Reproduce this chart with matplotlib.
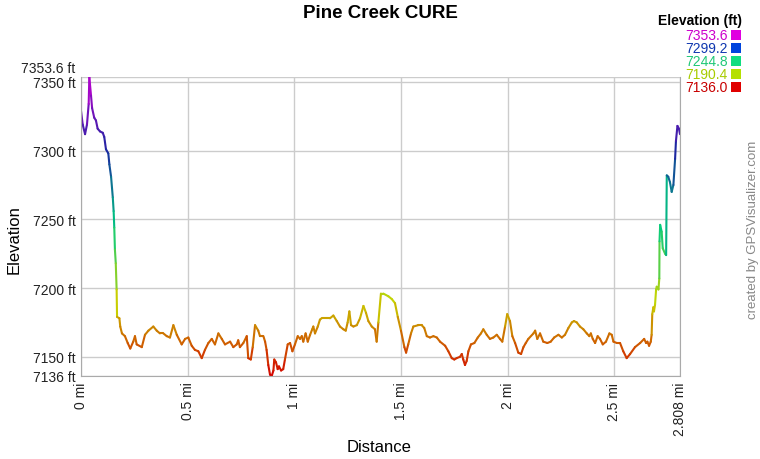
import matplotlib.pyplot as plt
import numpy as np
from matplotlib.collections import LineCollection
from matplotlib.colors import LinearSegmentedColormap, Normalize
from matplotlib.patches import Rectangle
from matplotlib.transforms import ScaledTranslation

plt.rcParams['font.family'] = ['Liberation Sans', 'DejaVu Sans']

# profile (distance in mi, elevation in ft)
dist_mi = [0.000, 0.008, 0.019, 0.028, 0.036, 0.039, 0.047, 0.052, 0.062, 0.070,
           0.078, 0.089, 0.102, 0.109, 0.117, 0.128, 0.133, 0.141, 0.149, 0.153,
           0.156, 0.159, 0.163, 0.167, 0.169, 0.180, 0.184, 0.192, 0.206, 0.219,
           0.231, 0.245, 0.253, 0.261, 0.285, 0.300, 0.316, 0.339, 0.355, 0.370,
           0.386, 0.402, 0.417, 0.433, 0.449, 0.472, 0.488, 0.503, 0.519, 0.534,
           0.550, 0.566, 0.581, 0.597, 0.613, 0.628, 0.644, 0.660, 0.675, 0.699,
           0.714, 0.730, 0.737, 0.745, 0.761, 0.777, 0.784, 0.796, 0.805, 0.816,
           0.831, 0.839, 0.855, 0.863, 0.870, 0.878, 0.886, 0.894, 0.902, 0.906,
           0.914, 0.922, 0.928, 0.938, 0.948, 0.956, 0.969, 0.980, 0.991, 1.003,
           1.016, 1.027, 1.035, 1.042, 1.053, 1.063, 1.074, 1.084, 1.089, 1.097,
           1.110, 1.120, 1.128, 1.152, 1.167, 1.183, 1.199, 1.214, 1.230, 1.241,
           1.250, 1.258, 1.266, 1.277, 1.293, 1.308, 1.324, 1.336, 1.347, 1.363,
           1.378, 1.386, 1.394, 1.406, 1.417, 1.441, 1.457, 1.472, 1.485, 1.500,
           1.516, 1.524, 1.534, 1.547, 1.558, 1.581, 1.597, 1.609, 1.621, 1.636,
           1.652, 1.668, 1.683, 1.707, 1.722, 1.738, 1.750, 1.761, 1.777, 1.785,
           1.792, 1.800, 1.808, 1.816, 1.828, 1.844, 1.860, 1.875, 1.886, 1.902,
           1.917, 1.933, 1.949, 1.964, 1.975, 1.988, 1.998, 2.011, 2.022, 2.035,
           2.050, 2.063, 2.074, 2.085, 2.097, 2.121, 2.129, 2.139, 2.152, 2.167,
           2.186, 2.202, 2.218, 2.238, 2.254, 2.269, 2.285, 2.301, 2.311, 2.324,
           2.339, 2.355, 2.371, 2.383, 2.390, 2.399, 2.410, 2.422, 2.433, 2.446,
           2.461, 2.477, 2.488, 2.496, 2.512, 2.527, 2.542, 2.558, 2.574, 2.597,
           2.621, 2.640, 2.649, 2.655, 2.663, 2.671, 2.675, 2.678, 2.683, 2.686,
           2.691, 2.696, 2.699, 2.707, 2.711, 2.712, 2.715, 2.722, 2.727, 2.738,
           2.743, 2.746, 2.753, 2.761, 2.769, 2.777, 2.785, 2.789, 2.796, 2.803,
           2.808]
elev_ft = [7329, 7319, 7312, 7319, 7334, 7353.6, 7340, 7331, 7324, 7322,
           7316, 7314, 7313, 7310, 7301, 7298, 7290, 7281, 7266, 7256,
           7244, 7228, 7218, 7199, 7179, 7178, 7172, 7167, 7165, 7160,
           7156, 7161, 7165, 7159, 7157, 7166, 7169, 7172, 7169, 7167,
           7167, 7165, 7164, 7173, 7166, 7159, 7163, 7164, 7158, 7155,
           7154, 7149, 7155, 7160, 7163, 7159, 7167, 7163, 7159, 7161,
           7157, 7159, 7162, 7157, 7160, 7165, 7149, 7148, 7157, 7173,
           7169, 7165, 7165, 7161, 7155, 7144, 7137, 7136, 7140, 7148,
           7146, 7141, 7143, 7140, 7141, 7148, 7159, 7160, 7154, 7159,
           7165, 7163, 7165, 7161, 7167, 7161, 7166, 7170, 7172, 7167,
           7172, 7177, 7178, 7178, 7178, 7180, 7176, 7172, 7170, 7169,
           7175, 7183, 7173, 7172, 7173, 7178, 7187, 7182, 7176, 7172,
           7170, 7161, 7175, 7196, 7196, 7194, 7192, 7189, 7179, 7169,
           7157, 7153, 7159, 7167, 7172, 7173, 7173, 7171, 7165, 7164,
           7165, 7164, 7161, 7158, 7154, 7149, 7148, 7149, 7150, 7152,
           7148, 7144, 7147, 7154, 7159, 7160, 7164, 7167, 7170, 7166,
           7163, 7164, 7166, 7163, 7161, 7172, 7181, 7176, 7165, 7160,
           7153, 7152, 7157, 7160, 7163, 7167, 7169, 7163, 7167, 7161,
           7160, 7161, 7164, 7166, 7164, 7166, 7171, 7175, 7176, 7175,
           7172, 7170, 7167, 7165, 7167, 7163, 7160, 7165, 7163, 7159,
           7161, 7167, 7166, 7161, 7160, 7160, 7154, 7149, 7152, 7157,
           7160, 7163, 7160, 7161, 7158, 7161, 7166, 7181, 7186, 7183,
           7188, 7199, 7201, 7199, 7207, 7234, 7246, 7241, 7229, 7225,
           7224, 7282, 7281, 7277, 7270, 7275, 7294, 7307, 7318, 7316,
           7312]

y_ticks = [7136, 7150, 7200, 7250, 7300, 7350, 7353.6]
y_labels = ['7136 ft', '7150 ft', '7200 ft', '7250 ft', '7300 ft', '7350 ft', '7353.6 ft']
x_ticks = [0, 0.5, 1, 1.5, 2, 2.5, 2.808]
x_labels = ['0 mi', '0.5 mi', '1 mi', '1.5 mi', '2 mi', '2.5 mi', '2.808 mi']

legend_values = ['7353.6', '7299.2', '7244.8', '7190.4', '7136.0']
legend_colors = ['#e000e0', '#0044dd', '#10dd80', '#b4e000', '#e00000']
legend_text_colors = ['#cc00cc', '#1038b0', '#20c878', '#a8cc00', '#c80000']

cmap = LinearSegmentedColormap.from_list(
    'elev', ['#d40000', '#c8d400', '#00cc80', '#1828a0', '#c000d0'])
norm = Normalize(7136, 7353.6)

fig = plt.figure(figsize=(7.6, 4.6), dpi=100)
ax = fig.add_axes([81/760, 1 - 377/460, 599/760, 299/460])

pts = np.column_stack([dist_mi, elev_ft])
segs = np.stack([pts[:-1], pts[1:]], axis=1)
mid = (pts[:-1, 1] + pts[1:, 1]) / 2
lc = LineCollection(segs, colors=cmap(norm(mid)), linewidths=1.5,
                    capstyle='round', joinstyle='round')
ax.add_collection(lc)

ax.set_xlim(0, 2.808)
ax.set_ylim(7136, 7353.6)

ax.set_xticks(x_ticks)
ax.set_xticklabels(x_labels, rotation=90, fontsize=10)
ax.set_yticks(y_ticks)
ax.set_yticklabels(y_labels, fontsize=10)
ax.tick_params(length=0, pad=4, colors='#222222')
# top label sits higher in the reference so it clears the 7350 label
top_lbl = ax.get_yticklabels()[-1]
top_lbl.set_transform(top_lbl.get_transform() + ScaledTranslation(0, 0.10, fig.dpi_scale_trans))

ax.grid(True, color='#cccccc', linewidth=1)
ax.set_axisbelow(True)
for s in ['left', 'right', 'bottom']:
    ax.spines[s].set_color('#aaaaaa')
ax.spines['top'].set_visible(False)

fig.text(380/760, 1 - 14/460, 'Pine Creek CURE', ha='center', va='center',
         fontsize=13.5, fontweight='bold')
fig.text(14/760, 1 - 240/460, 'Elevation', rotation=90, ha='center', va='center', fontsize=12)
fig.text(379/760, 1 - 448/460, 'Distance', ha='center', va='center', fontsize=12)
fig.text(753/760, 1 - 230/460, 'created by GPSVisualizer.com', rotation=90,
         ha='center', va='center', fontsize=9.5, color='#888888')

# elevation legend, top right
fig.text(742/760, 1 - 21/460, 'Elevation (ft)', ha='right', va='center',
         fontsize=10, fontweight='bold')
for i, (v, c, tc) in enumerate(zip(legend_values, legend_colors, legend_text_colors)):
    yc = 36 + i * 13
    fig.text(728/760, 1 - yc/460, v, ha='right', va='center', fontsize=10, color=tc)
    fig.patches.append(Rectangle((731/760, 1 - (yc + 5)/460), 10/760, 10/460,
                                 transform=fig.transFigure, facecolor=c, edgecolor='none'))

fig.savefig('out.png', dpi=100)
